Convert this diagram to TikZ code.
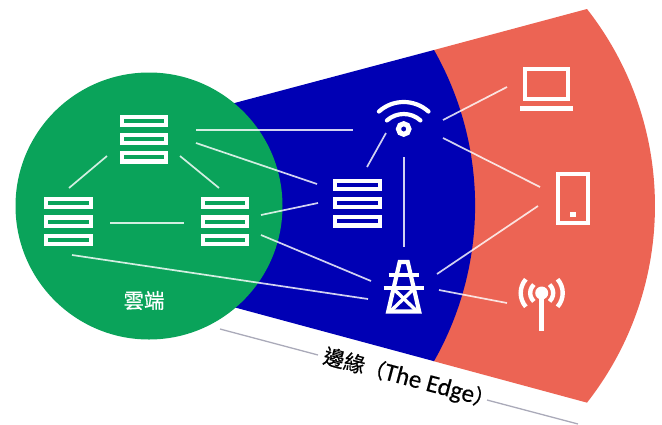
\documentclass[tikz,border=0pt]{standalone}
\usepackage{fontspec}
\newfontfamily\cjk[FakeBold=0.5]{Noto Sans CJK TC}
\newfontfamily\latinf[FakeBold=0.3]{Carlito}
\definecolor{cloudgreen}{RGB}{10,163,90}
\definecolor{edgeblue}{RGB}{0,0,180}
\definecolor{edgered}{RGB}{236,100,84}
\definecolor{rulegrey}{RGB}{170,170,185}
\tikzset{
  link/.style={draw=white,draw opacity=.82,line width=1.7pt},
  iconline/.style={draw=white,line width=4.2pt},
  anchorbox/.style={inner sep=0pt,minimum size=1pt},
  serverpic/.pic={
    \foreach \yy in {-18.3,0,18.3}
      \draw[iconline] (-22.2,\yy-4.1) rectangle (22.2,\yy+4.1);
  },
  wifipic/.pic={
    \draw[iconline,line cap=round] (0,10) ++(-132:37) arc[start angle=-132,end angle=-48,radius=37];
    \draw[iconline,line cap=round] (0,10) ++(-132:25) arc[start angle=-132,end angle=-48,radius=25];
    \draw[draw=white,line width=5pt] (0,0) circle[radius=5.3];
  },
  towerpic/.pic={
    \draw[iconline,line join=miter] (-15.5,24.5) -- (-4,-25) -- (4,-25) -- (15.5,24.5) -- cycle;
    \draw[iconline] (-15,-12) -- (15,-12);
    \draw[iconline] (-20,1) -- (20,1);
    \draw[draw=white,line width=3.4pt] (-10,2) -- (13,24);
    \draw[draw=white,line width=3.4pt] (10,2) -- (-13,24);
  },
  antennapic/.pic={
    \fill[white] (0,0) circle[radius=6.5];
    \draw[draw=white,line width=4.8pt] (0,0) -- (0,37.5);
    \foreach \rr/\aa in {11.5/47,21/41}{
      \draw[draw=white,line width=4.4pt] (0,0) ++(180-\aa:\rr) arc[start angle=180-\aa,end angle=180+\aa,radius=\rr];
      \draw[draw=white,line width=4.4pt] (0,0) ++(-\aa:\rr) arc[start angle=-\aa,end angle=\aa,radius=\rr];
    }
  }
}
\begin{document}
\begin{tikzpicture}[x=1pt,y=-1pt]
\useasboundingbox (0,0) rectangle (662,424);
% wedges
\fill[edgered] (434,50) -- (587,9) arc[start angle=-38.1,end angle=38.1,radius=319] -- (433,361) -- cycle;
\fill[edgeblue] (148,126) -- (434,50) arc[start angle=-29.6,end angle=29.6,radius=315] -- (148,284) -- cycle;
\fill[cloudgreen] (149,206) circle[radius=133.5];
% grey rules
\coordinate (ruleAs) at (220,329);
\coordinate (ruleAe) at (318,355);
\coordinate (ruleBs) at (487,400);
\coordinate (ruleBe) at (578,424);
\draw[rulegrey,line width=1.3pt] (ruleAs) -- (ruleAe);
\draw[rulegrey,line width=1.3pt] (ruleBs) -- (ruleBe);
% icon nodes
\node[anchorbox] (srvT) at (144,139) {};
\node[anchorbox] (srvL) at (68.5,221.5) {};
\node[anchorbox] (srvR) at (225,221.5) {};
\node[anchorbox] (srvC) at (357.5,203) {};
\node[anchorbox] (wifi) at (403.7,129) {};
\node[anchorbox] (tower) at (403.7,287) {};
\node[anchorbox] (antenna) at (541.7,293) {};
\node[anchorbox] (laptop) at (546.5,88) {};
\node[anchorbox] (tablet) at (573,198.5) {};
\pic at (srvT) {serverpic};
\pic at (srvL) {serverpic};
\pic at (srvR) {serverpic};
\pic at (srvC) {serverpic};
\pic at (wifi) {wifipic};
\pic at (tower) {towerpic};
\pic at (antenna) {antennapic};
% laptop
\draw[iconline] ([shift={(-21.5,-19)}]laptop.center) rectangle ([shift={(21.5,11)}]laptop.center);
\fill[white] ([shift={(-26.5,18)}]laptop.center) rectangle ([shift={(26.5,22.5)}]laptop.center);
% tablet
\draw[iconline] ([shift={(-15,-24.5)}]tablet.center) rectangle ([shift={(15,24.5)}]tablet.center);
\fill[white] ([shift={(-3,13.5)}]tablet.center) rectangle ([shift={(3,18.5)}]tablet.center);
% connector ends
\coordinate (srvT-a) at (107,156); \coordinate (srvL-a) at (69,188);
\coordinate (srvT-b) at (180,156); \coordinate (srvR-b) at (219,188);
\coordinate (srvL-c) at (110,223); \coordinate (srvR-c) at (184,223);
\coordinate (srvL-d) at (72,255);  \coordinate (tower-d) at (368,299);
\coordinate (srvT-e) at (196,130); \coordinate (wifi-e) at (353,130);
\coordinate (srvT-f) at (196,143); \coordinate (srvC-f) at (317,184);
\coordinate (srvR-g) at (261,215); \coordinate (srvC-g) at (318,203);
\coordinate (srvR-h) at (261,235); \coordinate (tower-h) at (371,281);
\coordinate (wifi-i) at (386,133); \coordinate (srvC-i) at (367,167);
\coordinate (wifi-j) at (404,157); \coordinate (tower-j) at (404,247);
\coordinate (wifi-k) at (443,120); \coordinate (laptop-k) at (507,87);
\coordinate (wifi-l) at (443,138); \coordinate (tablet-l) at (540,187);
\coordinate (tower-m) at (437,274); \coordinate (tablet-m) at (538,206);
\coordinate (tower-n) at (439,290); \coordinate (antenna-n) at (507,303);
\foreach \p/\q in {srvT-a/srvL-a,srvT-b/srvR-b,srvL-c/srvR-c,srvL-d/tower-d,srvT-e/wifi-e,srvT-f/srvC-f,srvR-g/srvC-g,srvR-h/tower-h,wifi-i/srvC-i,wifi-j/tower-j,wifi-k/laptop-k,wifi-l/tablet-l,tower-m/tablet-m,tower-n/antenna-n}
  \draw[link] (\p) -- (\q);
% labels
\node[text=white,inner sep=0pt,font=\cjk\fontsize{20.5}{24}\selectfont] (cloudlabel) at (144,300.5) {雲端};
\node[text=black,inner sep=0pt,rotate=-15,font=\fontsize{21}{25}\selectfont] (edgelabel) at (409,379) {\cjk 邊緣（{\latinf\fontsize{25}{25}\selectfont The Edge}）};
\end{tikzpicture}
\end{document}
